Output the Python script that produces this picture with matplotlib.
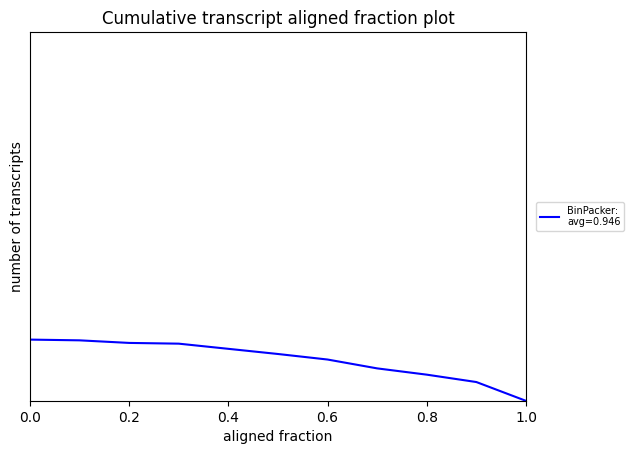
import numpy as np
import matplotlib.pyplot as plt

# aligned fraction thresholds and cumulative transcript counts
fractions = [0.0, 0.1, 0.2, 0.3, 0.4, 0.5, 0.6, 0.7, 0.8, 0.9, 1.0]
counts = [166, 164, 157, 155, 141, 127, 112, 88, 71, 51, 0]
label = "BinPacker:\navg=0.946"
y_max = 1000

fig = plt.figure(figsize=(6.36, 4.55), dpi=100)
ax = fig.add_subplot(111)
fig.subplots_adjust(left=0.047, right=0.827, top=0.93, bottom=0.119)

ax.plot(fractions, counts, color='blue', label=label)
ax.set_xlim(0, 1)
ax.set_ylim(0, y_max)
ax.set_yticks([])
ax.set_title("Cumulative transcript aligned fraction plot")
ax.set_xlabel("aligned fraction")
ax.set_ylabel("number of transcripts")
ax.legend(loc='center left', bbox_to_anchor=(1.01, 0.5), fontsize=7)

fig.savefig("out.png", dpi=100)
